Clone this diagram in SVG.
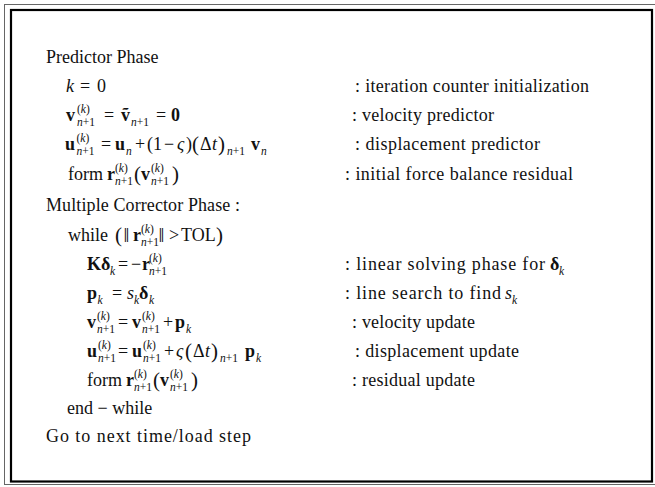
<svg xmlns="http://www.w3.org/2000/svg" width="655" height="487" viewBox="0 0 655 487">
  <style>
    text { font-family: "Liberation Serif", "Times New Roman", serif; font-size: 18px; fill: #111; }
    .b { font-weight: bold; }
    .i { font-style: italic; }
    .s { font-size: 11.5px; }
    .big { font-size: 21px; }
    .frame-outer { fill: none; stroke: #666; stroke-width: 1; }
    .frame-inner { fill: none; stroke: #000; stroke-width: 2.2; }
  </style>
  <rect width="655" height="487" fill="#fff"/>

  <!-- double frame -->
  <g id="frame">
    <rect class="frame-outer" x="4.5" y="4.5" width="651" height="480"/>
    <rect class="frame-inner" x="11" y="10" width="641" height="471.5"/>
  </g>

  <!-- predictor phase -->
  <g id="predictor">
    <text x="46" y="63">Predictor Phase</text>

    <g id="line-k">
      <text y="92"><tspan class="i" x="66">k</tspan><tspan x="80">=</tspan><tspan x="97">0</tspan></text>
      <text x="355" y="92" textLength="234" lengthAdjust="spacing">: iteration counter initialization</text>
    </g>

    <g id="line-vpred">
      <text y="121"><tspan class="b" x="66">v</tspan><tspan class="s" x="77" y="113">(</tspan><tspan class="s i">k</tspan><tspan class="s">)</tspan><tspan class="s i" x="77" y="126">n</tspan><tspan class="s">+1</tspan><tspan x="104" y="121">=</tspan><tspan class="b" x="121">ṽ</tspan><tspan class="s i" x="131" y="126">n</tspan><tspan class="s">+1</tspan><tspan x="156" y="121">=</tspan><tspan class="b" x="171">0</tspan></text>
      <text x="352" y="121" textLength="142" lengthAdjust="spacing">: velocity predictor</text>
    </g>

    <g id="line-upred">
      <text y="150"><tspan class="b" x="65">u</tspan><tspan class="s" x="76.5" y="142">(</tspan><tspan class="s i">k</tspan><tspan class="s">)</tspan><tspan class="s i" x="76.5" y="155">n</tspan><tspan class="s">+1</tspan><tspan x="101" y="150">=</tspan><tspan class="b" x="115">u</tspan><tspan class="s i" x="126" y="155">n</tspan><tspan x="135" y="150">+</tspan><tspan x="147">(1</tspan><tspan x="164">−</tspan><tspan class="i" x="177">ς</tspan><tspan x="186">)</tspan><tspan class="big" x="192" y="151">(</tspan><tspan x="200" y="150">Δ</tspan><tspan class="i" x="212">t</tspan><tspan class="big" x="218" y="151">)</tspan><tspan class="s i" x="227" y="155">n</tspan><tspan class="s">+1</tspan><tspan class="b" x="251" y="150">v</tspan><tspan class="s i" x="261" y="155">n</tspan></text>
      <text x="355" y="150" textLength="185" lengthAdjust="spacing">: displacement predictor</text>
    </g>

    <g id="line-rpred">
      <text y="180"><tspan x="68">form</tspan><tspan class="b" x="107">r</tspan><tspan class="s" x="115" y="172">(</tspan><tspan class="s i">k</tspan><tspan class="s">)</tspan><tspan class="s i" x="115" y="185">n</tspan><tspan class="s">+1</tspan><tspan class="big" x="134" y="181">(</tspan><tspan class="b" x="141" y="180">v</tspan><tspan class="s" x="151" y="172">(</tspan><tspan class="s i">k</tspan><tspan class="s">)</tspan><tspan class="s i" x="151" y="185">n</tspan><tspan class="s">+1</tspan><tspan class="big" x="172" y="181">)</tspan></text>
      <text x="345" y="180" textLength="228" lengthAdjust="spacing">: initial force balance residual</text>
    </g>
  </g>

  <!-- multiple corrector phase -->
  <g id="corrector">
    <text x="46" y="211" textLength="194" lengthAdjust="spacing">Multiple Corrector Phase :</text>

    <g id="line-while">
      <text y="241"><tspan x="68">while</tspan><tspan class="big" x="115" y="242">(</tspan><tspan class="big" x="123.5" y="242">‖</tspan><tspan class="b" x="133" y="241">r</tspan><tspan class="s" x="141" y="233">(</tspan><tspan class="s i">k</tspan><tspan class="s">)</tspan><tspan class="s i" x="141" y="246">n</tspan><tspan class="s">+1</tspan><tspan class="big" x="158.5" y="242">‖</tspan><tspan x="169" y="241">&gt;</tspan><tspan x="181">TOL</tspan><tspan class="big" x="216" y="242">)</tspan></text>
    </g>

    <g id="line-solve">
      <text y="270"><tspan class="b" x="87">K</tspan><tspan class="b" x="101">δ</tspan><tspan class="s i" x="110" y="275">k</tspan><tspan x="118" y="270">=</tspan><tspan x="131">−</tspan><tspan class="b" x="142">r</tspan><tspan class="s" x="149" y="262">(</tspan><tspan class="s i">k</tspan><tspan class="s">)</tspan><tspan class="s i" x="149" y="275">n</tspan><tspan class="s">+1</tspan></text>
      <text y="270"><tspan x="345" textLength="200" lengthAdjust="spacing">: linear solving phase for</tspan><tspan class="b" x="550">δ</tspan><tspan class="s i" x="559" y="275">k</tspan></text>
    </g>

    <g id="line-search">
      <text y="299"><tspan class="b" x="87">p</tspan><tspan class="s i" x="97.5" y="304">k</tspan><tspan x="112" y="299">=</tspan><tspan class="i" x="127">s</tspan><tspan class="s i" x="134" y="304">k</tspan><tspan class="b" x="139" y="299">δ</tspan><tspan class="s i" x="149" y="304">k</tspan></text>
      <text y="299"><tspan x="345" textLength="156" lengthAdjust="spacing">: line search to find</tspan><tspan class="i" x="505">s</tspan><tspan class="s i" x="512" y="304">k</tspan></text>
    </g>

    <g id="line-vupd">
      <text y="328"><tspan class="b" x="87">v</tspan><tspan class="s" x="97" y="320">(</tspan><tspan class="s i">k</tspan><tspan class="s">)</tspan><tspan class="s i" x="97" y="333">n</tspan><tspan class="s">+1</tspan><tspan x="118" y="328">=</tspan><tspan class="b" x="132">v</tspan><tspan class="s" x="142" y="320">(</tspan><tspan class="s i">k</tspan><tspan class="s">)</tspan><tspan class="s i" x="142" y="333">n</tspan><tspan class="s">+1</tspan><tspan x="163" y="328">+</tspan><tspan class="b" x="175">p</tspan><tspan class="s i" x="186" y="333">k</tspan></text>
      <text x="352" y="328" textLength="123" lengthAdjust="spacing">: velocity update</text>
    </g>

    <g id="line-uupd">
      <text y="357"><tspan class="b" x="87">u</tspan><tspan class="s" x="98" y="349">(</tspan><tspan class="s i">k</tspan><tspan class="s">)</tspan><tspan class="s i" x="98" y="362">n</tspan><tspan class="s">+1</tspan><tspan x="118" y="357">=</tspan><tspan class="b" x="132">u</tspan><tspan class="s" x="143" y="349">(</tspan><tspan class="s i">k</tspan><tspan class="s">)</tspan><tspan class="s i" x="143" y="362">n</tspan><tspan class="s">+1</tspan><tspan x="164" y="357">+</tspan><tspan class="i" x="176">ς</tspan><tspan class="big" x="185" y="358">(</tspan><tspan x="193" y="357">Δ</tspan><tspan class="i" x="205">t</tspan><tspan class="big" x="211" y="358">)</tspan><tspan class="s i" x="220" y="362">n</tspan><tspan class="s">+1</tspan><tspan class="b" x="245" y="357">p</tspan><tspan class="s i" x="256" y="362">k</tspan></text>
      <text x="355" y="357" textLength="164" lengthAdjust="spacing">: displacement update</text>
    </g>

    <g id="line-rupd">
      <text y="386"><tspan x="87">form</tspan><tspan class="b" x="126">r</tspan><tspan class="s" x="134" y="378">(</tspan><tspan class="s i">k</tspan><tspan class="s">)</tspan><tspan class="s i" x="134" y="391">n</tspan><tspan class="s">+1</tspan><tspan class="big" x="153" y="387">(</tspan><tspan class="b" x="160" y="386">v</tspan><tspan class="s" x="170" y="378">(</tspan><tspan class="s i">k</tspan><tspan class="s">)</tspan><tspan class="s i" x="170" y="391">n</tspan><tspan class="s">+1</tspan><tspan class="big" x="191" y="387">)</tspan></text>
      <text x="352" y="386" textLength="123" lengthAdjust="spacing">: residual update</text>
    </g>

    <text x="67" y="414">end − while</text>
  </g>

  <text x="46" y="442" textLength="205" lengthAdjust="spacing">Go to next time/load step</text>
</svg>
